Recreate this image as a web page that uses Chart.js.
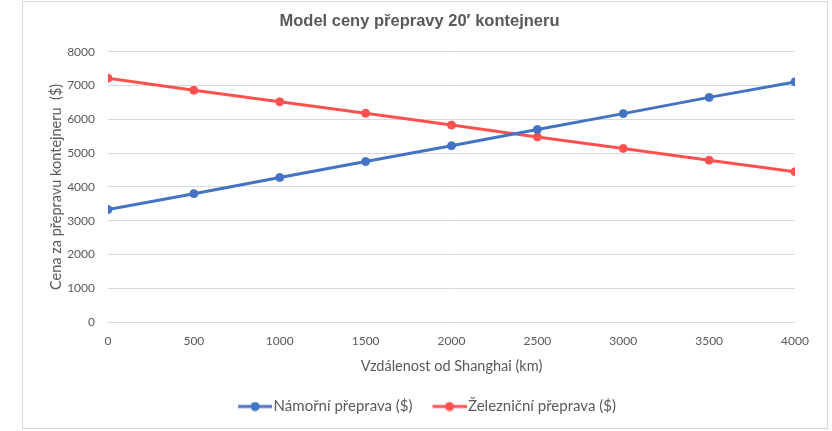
<!DOCTYPE html>
<html>
<head>
<meta charset="utf-8">
<script src="https://cdn.jsdelivr.net/npm/chart.js@4"></script>
<style>
  body { margin:0; background:#fff; }
  #box { position:absolute; left:22px; top:1px; width:806px; height:428px; border:1px solid #d9d9d9; box-sizing:border-box; }
</style>
</head>
<body>
<div id="box"><canvas id="myChart"></canvas></div>
<script>
const distances = [0, 500, 1000, 1500, 2000, 2500, 3000, 3500, 4000];
const seaPrice = [3330, 3800, 4280, 4750, 5220, 5700, 6170, 6650, 7110];
const railPrice = [7220, 6860, 6520, 6180, 5830, 5480, 5140, 4790, 4450];
const seriesNames = ['Námořní přeprava ($)', 'Železniční přeprava ($)'];
const seriesColors = ['#4472C4', '#FF5050'];

const grey = '#595959';
const tickFont = {family:'Lato', size:12};

// legend marker: short line with a dot, left 6px kept empty so it lines up with the text
function marker(color){
    const c = document.createElement('canvas');
    c.width = 40; c.height = 10;
    const g = c.getContext('2d');
    g.strokeStyle = color; g.lineWidth = 3;
    g.beginPath(); g.moveTo(6,5); g.lineTo(40,5); g.stroke();
    g.fillStyle = color;
    g.beginPath(); g.arc(23,5,4.5,0,Math.PI*2); g.fill();
    return c;
}

function pts(vals){
    const out = [];
    for (let i=0;i<distances.length;i++){
        out.push({x:distances[i], y:vals[i]});
    }
    return out;
}

// center the legend on the whole canvas, not on the padded area
const legendCenter = {
    id:'legendCenter',
    afterLayout:function(chart){
        chart.legend.left = 4;
        chart.legend.right = chart.width;
    }
};

const ctx = document.getElementById('myChart').getContext('2d');
const myChart = new Chart(ctx,{
    type:'line',
    data:{
        datasets:[{
            label:seriesNames[0],
            data:pts(seaPrice),
            borderColor:seriesColors[0],
            backgroundColor:seriesColors[0],
            borderWidth:3,
            pointRadius:4,
            pointBorderWidth:1,
            pointHoverRadius:4
        },{
            label:seriesNames[1],
            data:pts(railPrice),
            borderColor:seriesColors[1],
            backgroundColor:seriesColors[1],
            borderWidth:3,
            pointRadius:4,
            pointBorderWidth:1,
            pointHoverRadius:4
        }]
    },
    plugins:[legendCenter],
    options:{
        responsive:true,
        maintainAspectRatio:false,
        animation:false,
        layout:{padding:{left:21, right:32, top:0, bottom:4}},
        scales:{
            x:{
                type:'linear',
                min:0, max:4000,
                grid:{display:false, drawTicks:false},
                border:{display:false},
                ticks:{stepSize:500, color:grey, font:tickFont, padding:12, callback:function(v){ return String(v); }},
                title:{display:true, text:'Vzdálenost od Shanghai (km)', color:grey, font:{family:'Lato', size:14.5}},
                afterFit:function(s){ s.height = 57; }
            },
            y:{
                min:0, max:8000,
                grid:{color:'#d9d9d9', lineWidth:1, drawTicks:false},
                border:{display:false},
                ticks:{stepSize:1000, color:grey, font:tickFont, padding:13, callback:function(v){ return String(v); }},
                title:{display:true, text:'Cena za přepravu kontejneru  ($)', color:grey, font:{family:'Lato', size:14.5}},
                afterFit:function(s){ s.width = 64; }
            }
        },
        plugins:{
            title:{
                display:true,
                text:'Model ceny přepravy 20′ kontejneru',
                color:grey,
                font:{family:'Liberation Sans', size:16.5, weight:'bold'},
                padding:{top:10, bottom:20}
            },
            legend:{
                position:'bottom',
                labels:{
                    color:grey,
                    font:{family:'Lato', size:15},
                    usePointStyle:true,
                    pointStyleWidth:28,
                    padding:20,
                    generateLabels:function(chart){
                        const items = Chart.defaults.plugins.legend.labels.generateLabels(chart);
                        items.forEach(function(it,i){ it.pointStyle = marker(seriesColors[i]); });
                        return items;
                    }
                }
            },
            tooltip:{enabled:false}
        }
    }
});
</script>
</body>
</html>
